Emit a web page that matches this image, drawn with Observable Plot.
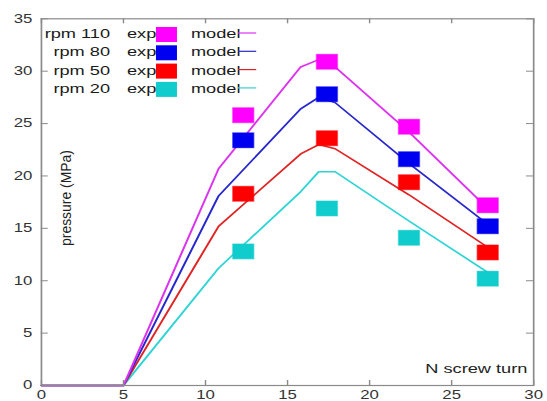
<!DOCTYPE html>
<html>
<head>
<meta charset="utf-8">
<script src="https://cdn.jsdelivr.net/npm/d3@7"></script>
<script src="https://cdn.jsdelivr.net/npm/@observablehq/plot@0.6"></script>
<style>
  html, body { margin: 0; padding: 0; background: #fff; }
  #chart svg { display: block; }
</style>
</head>
<body>
<div id="chart"></div>
<script>
// ---- data ----
const seriesNames = ["rpm 110", "rpm 80", "rpm 50", "rpm 20"];

const expX   = [12.3, 17.4, 22.4, 27.2];
const exp110 = [25.8, 30.9, 24.7, 17.2];
const exp80  = [23.4, 27.8, 21.6, 15.2];
const exp50  = [18.3, 23.6, 19.4, 12.7];
const exp20  = [12.8, 16.9, 14.1, 10.2];

const modelX   = [0, 5, 10.8, 15.8, 16.9, 17.9, 22.4, 27.2];
const model110 = [0, 0, 20.7, 30.4, 31.1, 30.4, 24.2, 16.9];
const model80  = [0, 0, 18.1, 26.4, 27.5, 27.0, 21.2, 15.4];
const model50  = [0, 0, 15.2, 22.1, 23.0, 22.6, 18.2, 13.2];
const model20  = [0, 0, 11.2, 18.5, 20.4, 20.4, 15.7, 10.8];

const xTicks = [0, 5, 10, 15, 20, 25, 30];
const yTicks = [0, 5, 10, 15, 20, 25, 30, 35];

const xLabel = "N screw turn";
const yLabel = "pressure (MPa)";
const expLabel = "exp";
const modelLabel = "model";

// ---- styling ----
const squareColors = ["#ff00ff", "#0000f0", "#ff0000", "#10cccc"];
const lineColors   = ["#dd33ee", "#2828cc", "#e02424", "#30d4d4"];

const series = seriesNames.map((name, i) => ({
  name,
  exp: [exp110, exp80, exp50, exp20][i],
  model: [model110, model80, model50, model20][i],
  sq: squareColors[i],
  ln: lineColors[i]
}));

const W = 547, H = 401;
const SX = 1.4;              // horizontal stretch of the reference
const W0 = W / SX;
const ml = 29.1, mr = W0 - 380.7, mt = 18.3, mb = H - 385;
const plotW = W0 - ml - mr, plotH = H - mt - mb;
const FONT = "'Liberation Sans', Arial, Helvetica, sans-serif";

const marks = [];
// model lines, drawn bottom series first so magenta ends on top
[...series].reverse().forEach(s => {
  marks.push(Plot.line(modelX.map((x, i) => ({x, y: s.model[i]})),
    {x: "x", y: "y", stroke: s.ln, strokeWidth: 1.5}));
});
// experimental squares
series.forEach(s => {
  marks.push(Plot.dot(expX.map((x, i) => ({x, y: s.exp[i]})),
    {x: "x", y: "y", symbol: "square", r: Math.sqrt(225 / Math.PI), fill: s.sq, stroke: s.sq, strokeOpacity: 0.5, strokeWidth: 1}));
});

marks.push(
  Plot.frame({stroke: "#8a8a8a", strokeWidth: 1.2}),
  // inward ticks on all four sides
  Plot.tickX(xTicks, {x: d => d, stroke: "#8a8a8a", insetTop: plotH - 5}),
  Plot.tickX(xTicks, {x: d => d, stroke: "#8a8a8a", insetBottom: plotH - 5}),
  Plot.tickY(yTicks, {y: d => d, stroke: "#8a8a8a", insetRight: plotW - 5}),
  Plot.tickY(yTicks, {y: d => d, stroke: "#8a8a8a", insetLeft: plotW - 5}),
  Plot.axisX(xTicks, {tickSize: 0, tickPadding: 4.5, label: null, fontSize: 12, fill: "#333"}),
  Plot.axisY(yTicks, {tickSize: 0, tickPadding: 6.5, label: null, fontSize: 12, fill: "#333"}),
  Plot.text([xLabel], {frameAnchor: "bottom-right", text: d => d, textAnchor: "end", lineAnchor: "bottom", dx: -4.5, dy: -13, fontSize: 13, fill: "#222"})
);

const svg = Plot.plot({
  width: W0,
  height: H,
  marginLeft: ml,
  marginRight: mr,
  marginTop: mt,
  marginBottom: mb,
  x: {domain: [0, 30]},
  y: {domain: [0, 35]},
  style: {fontFamily: FONT, fontSize: "12px", background: "#fff", color: "#333"},
  marks
});

// y-axis title (rotated, inside the frame)
d3.select(svg).append("text")
  .attr("transform", `translate(47.1,198) rotate(-90)`)
  .attr("text-anchor", "middle")
  .attr("dy", "0.35em")
  .attr("font-family", FONT)
  .attr("font-size", 10)
  .attr("fill", "#222")
  .attr("textLength", 96)
  .attr("lengthAdjust", "spacingAndGlyphs")
  .text(yLabel);

// legend (top-left, inside the frame)
const lg = d3.select(svg).append("g")
  .attr("font-family", FONT).attr("font-size", 13).attr("fill", "#1a1a1a")
  .attr("text-anchor", "start");
series.forEach((s, i) => {
  const cy = 33.5 + i * 18.3;
  lg.append("text").attr("x", 78.6).attr("y", cy).attr("dy", "0.35em")
    .attr("text-anchor", "end").text(s.name);
  lg.append("text").attr("x", 90.7).attr("y", cy).attr("dy", "0.35em")
    .attr("text-anchor", "start").text(expLabel);
  lg.append("rect").attr("x", 118.9 - 7.5).attr("y", cy + 1 - 7.5)
    .attr("width", 15).attr("height", 15).attr("fill", s.sq);
  lg.append("text").attr("x", 136.4).attr("y", cy).attr("dy", "0.35em")
    .attr("text-anchor", "start").text(modelLabel);
  lg.append("line").attr("x1", 170).attr("x2", 183).attr("y1", cy - 0.5).attr("y2", cy - 0.5)
    .attr("stroke", s.ln).attr("stroke-width", 1.2);
});

// stretch horizontally like the reference image
svg.setAttribute("viewBox", `0 0 ${W0} ${H}`);
svg.setAttribute("preserveAspectRatio", "none");
svg.setAttribute("width", W);
svg.setAttribute("height", H);
svg.style.width = W + "px";
svg.style.height = H + "px";
svg.style.maxWidth = "none";
svg.style.overflow = "visible";

document.getElementById("chart").appendChild(svg);
</script>
</body>
</html>
